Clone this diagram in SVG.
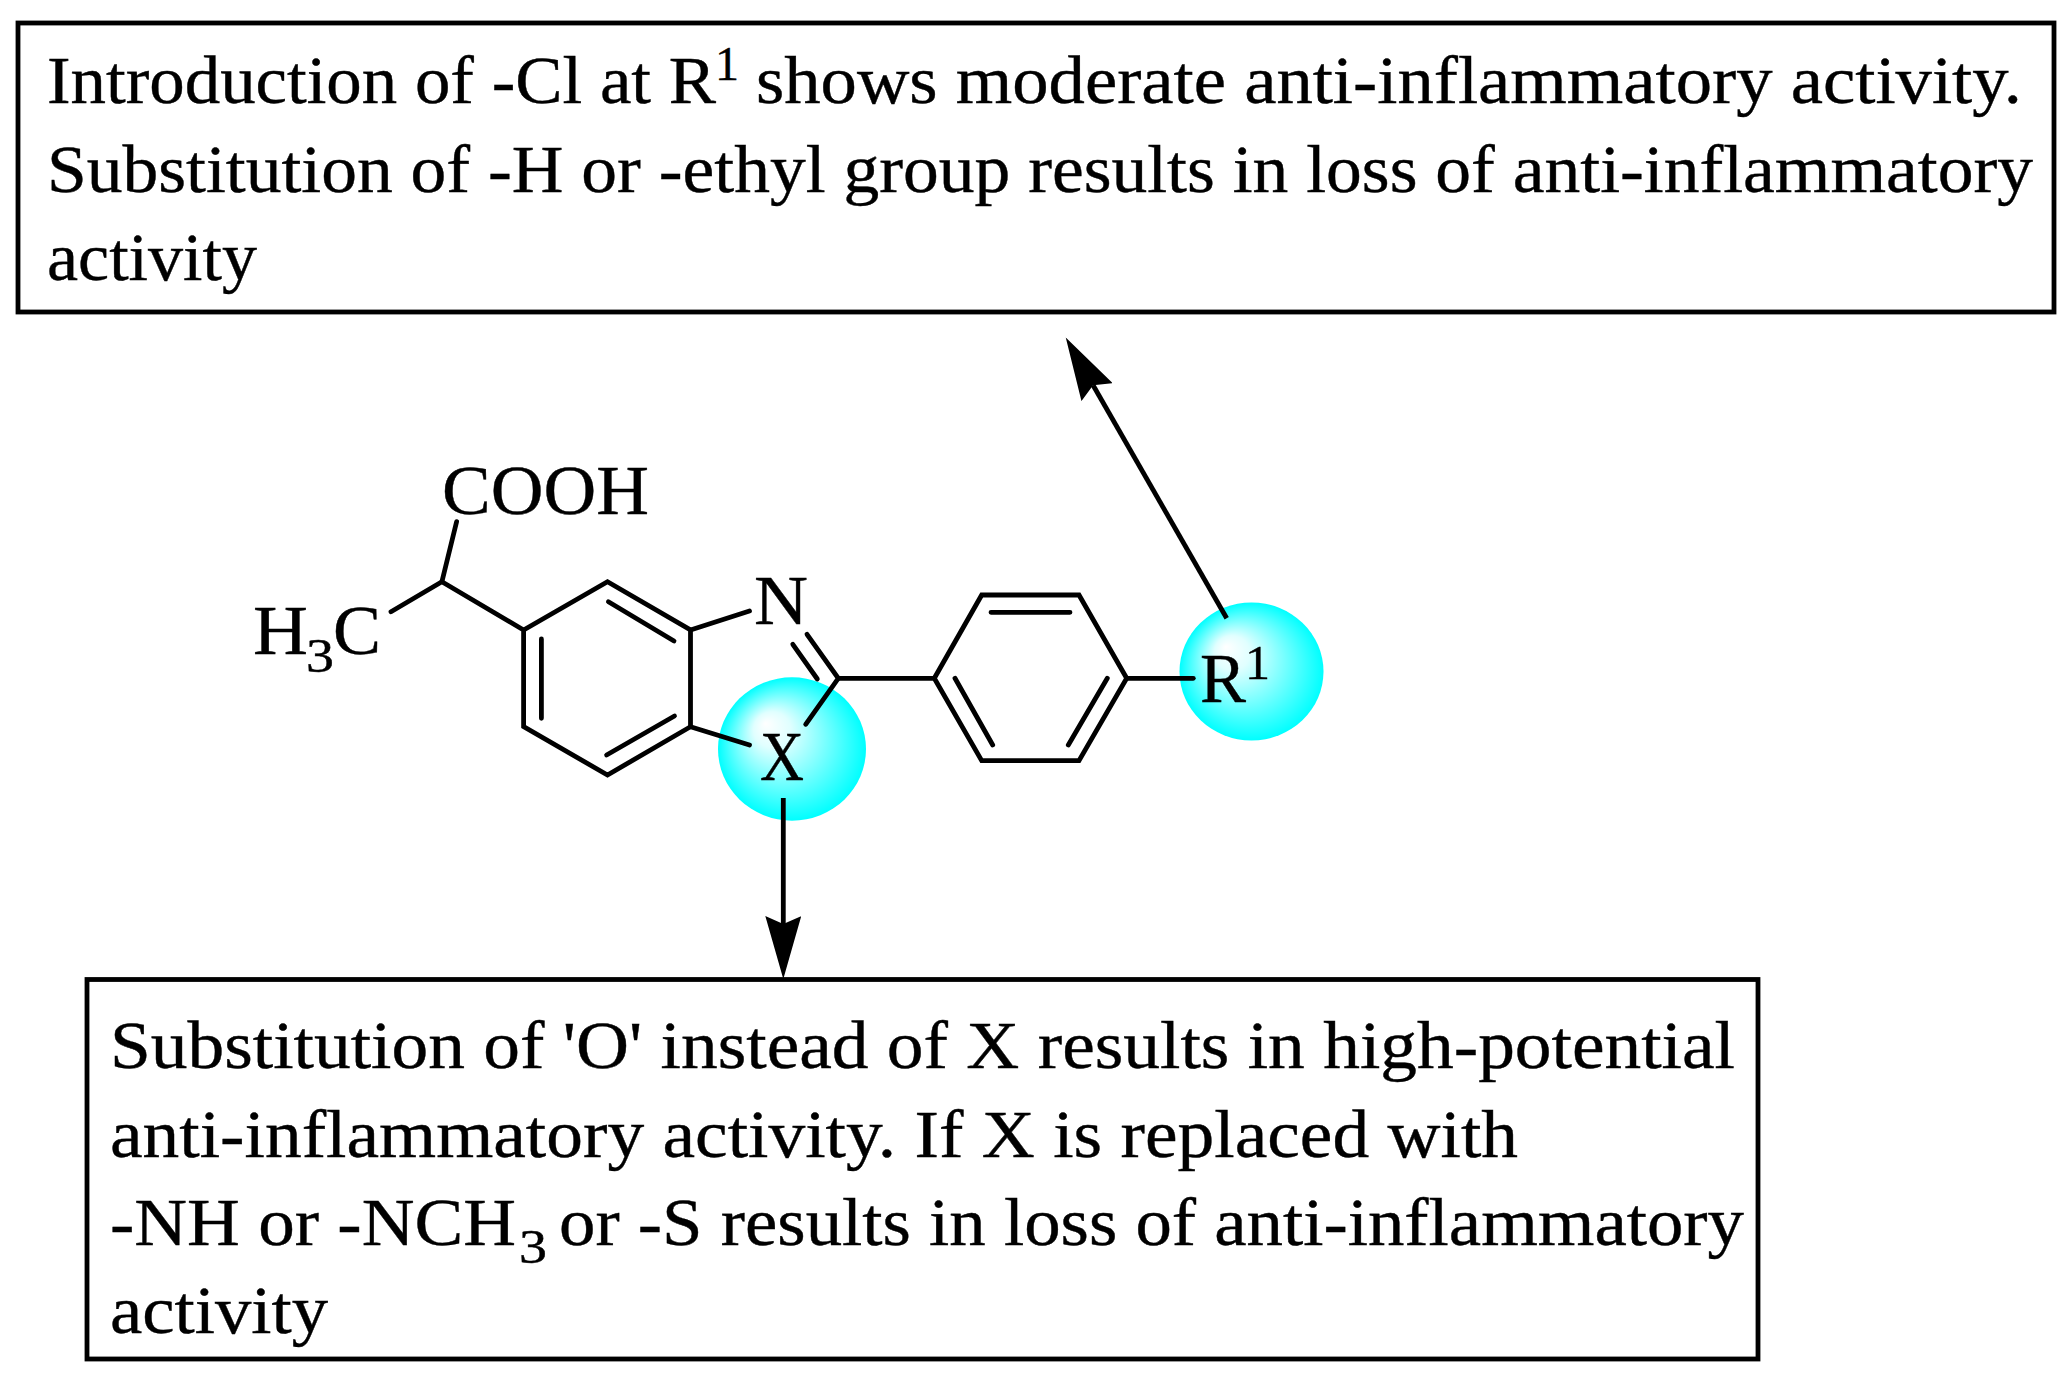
<svg xmlns="http://www.w3.org/2000/svg" width="2068" height="1375" viewBox="0 0 2068 1375">
<defs>
<style>
text{font-family:"Liberation Serif","Times New Roman",serif;fill:#000;stroke:#000;stroke-width:0.4}
.t{font-size:67px}
.a{font-size:69px}
.s{font-size:48px}
.box{fill:#fff;stroke:#000;stroke-width:4.8}
.b{stroke:#000;stroke-width:4.8;stroke-linecap:round;stroke-linejoin:miter;fill:none}
.c{stroke:#000;stroke-width:4.8;fill:none;marker-end:url(#head)}
.g{fill:url(#glow)}
</style>
<radialGradient id="glow" cx="0.5" cy="0.5" r="0.5" fx="0.32" fy="0.32">
<stop offset="0" stop-color="#fff"/>
<stop offset="0.25" stop-color="#e0ffff"/>
<stop offset="1" stop-color="#0ff"/>
</radialGradient>
<marker id="head" markerUnits="userSpaceOnUse" markerWidth="66" markerHeight="36" viewBox="0 0 66 36" refX="8" refY="18" orient="auto">
<path d="M0,0 L8,18 L0,36 L63,18 Z" fill="#000"/>
</marker>
</defs>
<rect width="2068" height="1375" fill="#fff"/>
<g id="box-r1">
<rect class="box" x="18" y="23" width="2036" height="289"/>
<text class="t" x="47" y="103" textLength="669" lengthAdjust="spacingAndGlyphs">Introduction of -Cl at R</text>
<text class="s" x="715" y="80" textLength="24" lengthAdjust="spacingAndGlyphs">1</text>
<text class="t" x="756" y="103" textLength="1266" lengthAdjust="spacingAndGlyphs">shows moderate anti-inflammatory activity.</text>
<text class="t" x="47" y="192" textLength="1986" lengthAdjust="spacingAndGlyphs">Substitution of -H or -ethyl group results in loss of anti-inflammatory</text>
<text class="t" x="47" y="280" textLength="210" lengthAdjust="spacingAndGlyphs">activity</text>
</g>
<g id="box-x">
<rect class="box" x="87" y="979.500" width="1671" height="379.500"/>
<text class="t" x="110" y="1068" textLength="1625" lengthAdjust="spacingAndGlyphs">Substitution of 'O' instead of X results in high-potential</text>
<text class="t" x="110" y="1157" textLength="1408" lengthAdjust="spacingAndGlyphs">anti-inflammatory activity. If X is replaced with</text>
<text class="t" x="110" y="1245" textLength="406" lengthAdjust="spacingAndGlyphs">-NH or -NCH</text>
<text class="s" x="519" y="1263" textLength="28" lengthAdjust="spacingAndGlyphs">3</text>
<text class="t" x="559" y="1245" textLength="1185" lengthAdjust="spacingAndGlyphs">or -S results in loss of anti-inflammatory</text>
<text class="t" x="110" y="1333" textLength="218" lengthAdjust="spacingAndGlyphs">activity</text>
</g>
<g id="highlight-x"><ellipse class="g" cx="792" cy="749" rx="74" ry="71.700"/></g>
<g id="highlight-r1"><ellipse class="g" cx="1251.500" cy="671.500" rx="72" ry="69"/></g>
<g id="molecule">
<path class="b" d="M391,611.700 L441.900,581.700 L523.600,630 L607.500,581.700 L690.500,630 L690.500,726.700 L607.500,775 L523.600,726.700 L523.600,630"/>
<path class="b" d="M441.900,581.700 L456.600,521.700"/>
<path class="b" d="M608.400,601.700 L674,641 M541.400,639 L541.400,718.300 M606.600,755 L674.500,716"/>
<path class="b" d="M690.500,630 L749.500,611 M690.500,726.700 L749.500,745"/>
<path class="b" d="M807,634.300 L838.300,678.300 L805.700,724.300 M792.800,644.300 L817.300,679"/>
<path class="b" d="M838.300,678.300 L934.300,678.300 L981.700,595 L1079,595 L1126.700,678.300 L1079,760.700 L981.700,760.700 L934.300,678.300"/>
<path class="b" d="M991,612.300 L1070,612.300 M955,678.300 L992.700,745 M1107.300,678.300 L1068.300,745"/>
<path class="b" d="M1126.700,678.300 L1193.300,678.300"/>
</g>
<g id="label-cooh"><text class="a" x="442" y="514" textLength="207" lengthAdjust="spacingAndGlyphs">COOH</text></g>
<g id="label-h3c">
<text class="a" x="253" y="654" textLength="55" lengthAdjust="spacingAndGlyphs">H</text>
<text class="s" x="306" y="672" textLength="28" lengthAdjust="spacingAndGlyphs">3</text>
<text class="a" x="333" y="654" textLength="48" lengthAdjust="spacingAndGlyphs">C</text>
</g>
<g id="label-n"><text class="a" x="754" y="624" textLength="54" lengthAdjust="spacingAndGlyphs">N</text></g>
<g id="label-x"><text class="a" x="760" y="780" textLength="44" lengthAdjust="spacingAndGlyphs">X</text></g>
<g id="label-r1">
<text class="a" x="1200" y="702" textLength="46" lengthAdjust="spacingAndGlyphs">R</text>
<text class="s" x="1245" y="679" textLength="25" lengthAdjust="spacingAndGlyphs">1</text>
</g>
<g id="connectors">
<line class="c" x1="1226.700" y1="618.300" x2="1093.100" y2="385.200"/>
<line class="c" x1="783.300" y1="798" x2="783.300" y2="924"/>
</g>
</svg>
